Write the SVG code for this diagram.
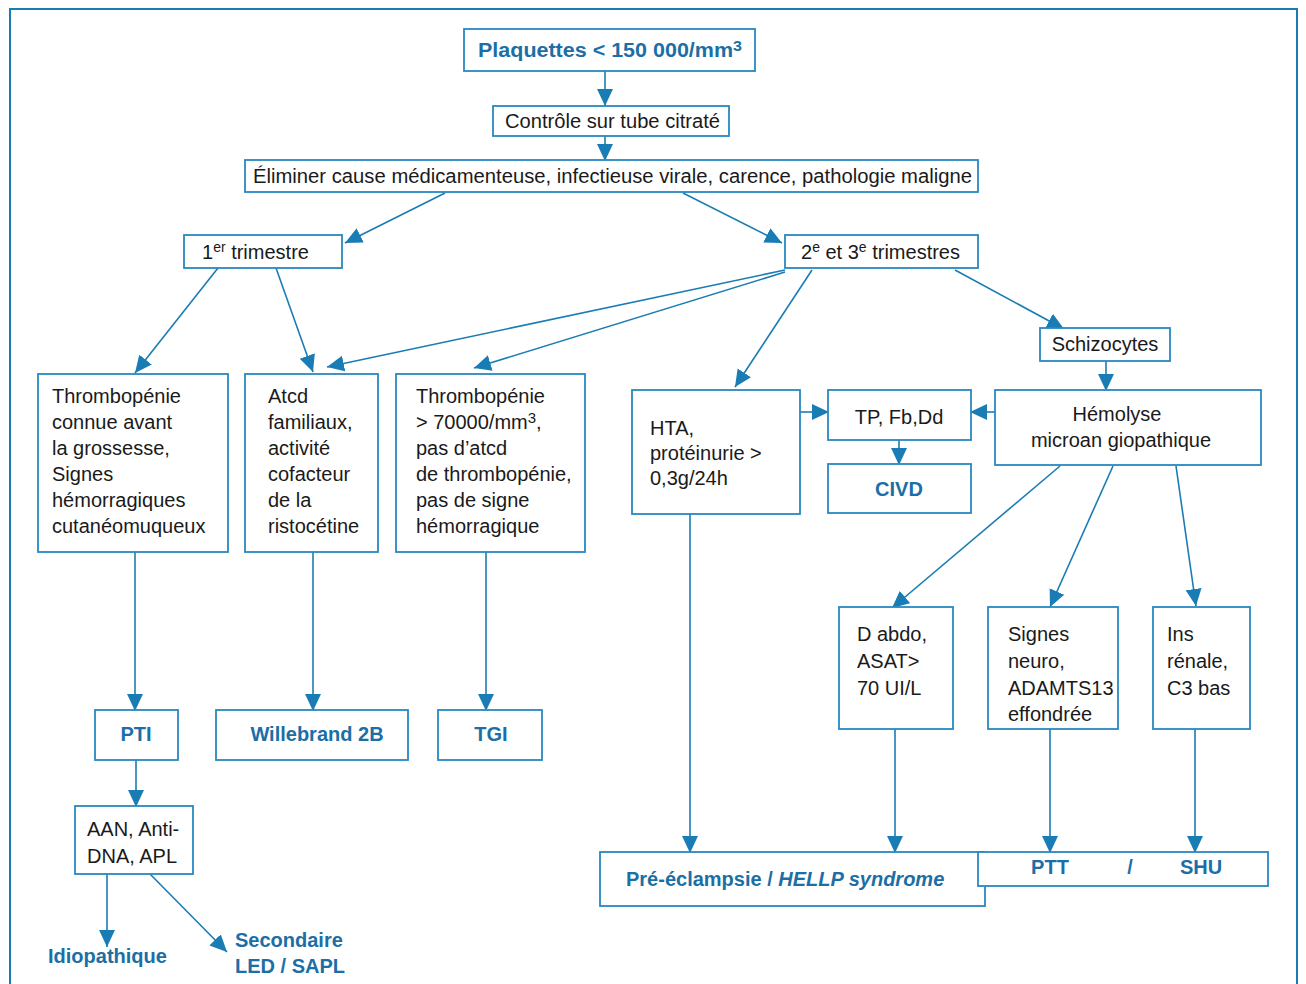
<svg xmlns="http://www.w3.org/2000/svg" width="1306" height="984" viewBox="0 0 1306 984">
<defs>
<marker id="ah" markerUnits="userSpaceOnUse" markerWidth="18" markerHeight="18" viewBox="0 0 18 18" refX="17" refY="9" orient="auto">
<path d="M0,1 L17,9 L0,17 Z" fill="#1a7cb4"/>
</marker>
<style>
.frame{fill:none;stroke:#1a7cb4;stroke-width:2}
.box{fill:#fff;stroke:#2a88c0;stroke-width:1.8}
.c{fill:none;stroke:#1a7cb4;stroke-width:1.6;marker-end:url(#ah)}
.t{font-family:"Liberation Sans",Arial,sans-serif;font-size:20px;fill:#1a1a1a}
.b{font-family:"Liberation Sans",Arial,sans-serif;font-size:20px;font-weight:bold;fill:#1b6fa6}
.m{text-anchor:middle}
</style>
</defs>
<rect width="1306" height="984" fill="#fff"/>
<rect class="frame" x="10" y="9" width="1287" height="1000"/>

<g id="connectors">
<line class="c" x1="605" y1="71" x2="605" y2="106"/>
<line class="c" x1="605" y1="136" x2="605" y2="161"/>
<line class="c" x1="445" y1="193" x2="345" y2="243"/>
<line class="c" x1="683" y1="193" x2="782" y2="243"/>
<line class="c" x1="218" y1="268" x2="135" y2="373"/>
<line class="c" x1="276" y1="268" x2="313" y2="372"/>
<line class="c" x1="785" y1="270" x2="327" y2="367"/>
<line class="c" x1="785" y1="272" x2="474" y2="368"/>
<line class="c" x1="812" y1="270" x2="735" y2="387"/>
<line class="c" x1="955" y1="270" x2="1064" y2="329"/>
<line class="c" x1="1106" y1="361" x2="1106" y2="391"/>
<line class="c" x1="800" y1="412" x2="829" y2="412"/>
<line class="c" x1="995" y1="412" x2="970" y2="412"/>
<line class="c" x1="899" y1="440" x2="899" y2="465"/>
<line class="c" x1="1060" y1="466" x2="892" y2="608"/>
<line class="c" x1="1113" y1="466" x2="1050" y2="607"/>
<line class="c" x1="1176" y1="466" x2="1196" y2="606"/>
<line class="c" x1="135" y1="552" x2="135" y2="711"/>
<line class="c" x1="313" y1="552" x2="313" y2="711"/>
<line class="c" x1="486" y1="552" x2="486" y2="711"/>
<line class="c" x1="136" y1="760" x2="136" y2="807"/>
<line class="c" x1="107" y1="874" x2="107" y2="947"/>
<line class="c" x1="150" y1="874" x2="227" y2="952"/>
<line class="c" x1="690" y1="514" x2="690" y2="853"/>
<line class="c" x1="895" y1="729" x2="895" y2="853"/>
<line class="c" x1="1050" y1="729" x2="1050" y2="853"/>
<line class="c" x1="1195" y1="729" x2="1195" y2="853"/>
</g>

<g id="plaquettes">
<rect class="box" x="464" y="29" width="291" height="42"/>
<text class="b" x="478" y="57" textLength="264" lengthAdjust="spacingAndGlyphs">Plaquettes &lt; 150 000/mm<tspan font-size="15" dy="-6">3</tspan></text>
</g>
<g id="controle">
<rect class="box" x="493" y="106" width="236" height="30"/>
<text class="t" x="505" y="128" textLength="215" lengthAdjust="spacingAndGlyphs">Contrôle sur tube citraté</text>
</g>
<g id="eliminer">
<rect class="box" x="245" y="160" width="733" height="32"/>
<text class="t" x="253" y="183" textLength="719" lengthAdjust="spacingAndGlyphs">Éliminer cause médicamenteuse, infectieuse virale, carence, pathologie maligne</text>
</g>
<g id="trim1">
<rect class="box" x="184" y="235" width="158" height="33"/>
<text class="t" x="202" y="259">1<tspan font-size="14" dy="-7">er</tspan><tspan dy="7"> trimestre</tspan></text>
</g>
<g id="trim23">
<rect class="box" x="785" y="235" width="193" height="33"/>
<text class="t" x="801" y="259">2<tspan font-size="14" dy="-7">e</tspan><tspan dy="7"> et 3</tspan><tspan font-size="14" dy="-7">e</tspan><tspan dy="7"> trimestres</tspan></text>
</g>
<g id="thrombo1">
<rect class="box" x="38" y="374" width="190" height="178"/>
<text class="t" x="52" y="403">Thrombopénie</text>
<text class="t" x="52" y="429">connue avant</text>
<text class="t" x="52" y="455">la grossesse,</text>
<text class="t" x="52" y="481">Signes</text>
<text class="t" x="52" y="507">hémorragiques</text>
<text class="t" x="52" y="533">cutanéomuqueux</text>
</g>
<g id="atcd">
<rect class="box" x="245" y="374" width="133" height="178"/>
<text class="t" x="268" y="403">Atcd</text>
<text class="t" x="268" y="429">familiaux,</text>
<text class="t" x="268" y="455">activité</text>
<text class="t" x="268" y="481">cofacteur</text>
<text class="t" x="268" y="507">de la</text>
<text class="t" x="268" y="533">ristocétine</text>
</g>
<g id="thrombo2">
<rect class="box" x="396" y="374" width="189" height="178"/>
<text class="t" x="416" y="403">Thrombopénie</text>
<text class="t" x="416" y="429">&gt; 70000/mm<tspan font-size="15" dy="-6">3</tspan><tspan dy="6">,</tspan></text>
<text class="t" x="416" y="455">pas d’atcd</text>
<text class="t" x="416" y="481">de thrombopénie,</text>
<text class="t" x="416" y="507">pas de signe</text>
<text class="t" x="416" y="533">hémorragique</text>
</g>
<g id="hta">
<rect class="box" x="632" y="390" width="168" height="124"/>
<text class="t" x="650" y="435">HTA,</text>
<text class="t" x="650" y="460">protéinurie &gt;</text>
<text class="t" x="650" y="485">0,3g/24h</text>
</g>
<g id="tp">
<rect class="box" x="828" y="390" width="143" height="50"/>
<text class="t m" x="899" y="424">TP, Fb,Dd</text>
</g>
<g id="civd">
<rect class="box" x="828" y="464" width="143" height="49"/>
<text class="b m" x="899" y="496">CIVD</text>
</g>
<g id="schizo">
<rect class="box" x="1040" y="328" width="130" height="33"/>
<text class="t m" x="1105" y="351">Schizocytes</text>
</g>
<g id="hemolyse">
<rect class="box" x="995" y="390" width="266" height="75"/>
<text class="t m" x="1117" y="421">Hémolyse</text>
<text class="t m" x="1121" y="447">microan giopathique</text>
</g>
<g id="dabdo">
<rect class="box" x="839" y="607" width="114" height="122"/>
<text class="t" x="857" y="641">D abdo,</text>
<text class="t" x="857" y="668">ASAT&gt;</text>
<text class="t" x="857" y="695">70 UI/L</text>
</g>
<g id="signes">
<rect class="box" x="988" y="607" width="130" height="122"/>
<text class="t" x="1008" y="641">Signes</text>
<text class="t" x="1008" y="668">neuro,</text>
<text class="t" x="1008" y="695">ADAMTS13</text>
<text class="t" x="1008" y="721">effondrée</text>
</g>
<g id="ins">
<rect class="box" x="1153" y="607" width="97" height="122"/>
<text class="t" x="1167" y="641">Ins</text>
<text class="t" x="1167" y="668">rénale,</text>
<text class="t" x="1167" y="695">C3 bas</text>
</g>
<g id="pti">
<rect class="box" x="95" y="710" width="83" height="50"/>
<text class="b m" x="136" y="741">PTI</text>
</g>
<g id="willebrand">
<rect class="box" x="216" y="710" width="192" height="50"/>
<text class="b m" x="317" y="741">Willebrand 2B</text>
</g>
<g id="tgi">
<rect class="box" x="438" y="710" width="104" height="50"/>
<text class="b m" x="491" y="741">TGI</text>
</g>
<g id="aan">
<rect class="box" x="75" y="806" width="118" height="68"/>
<text class="t" x="87" y="836">AAN, Anti-</text>
<text class="t" x="87" y="863">DNA, APL</text>
</g>
<g id="idiopathique">
<text class="b" x="48" y="963">Idiopathique</text>
</g>
<g id="secondaire">
<text class="b" x="235" y="947">Secondaire</text>
<text class="b" x="235" y="973">LED / SAPL</text>
</g>
<g id="preeclampsie">
<rect class="box" x="600" y="852" width="385" height="54"/>
<text class="b" x="626" y="886">Pré-éclampsie / <tspan font-style="italic">HELLP syndrome</tspan></text>
</g>
<g id="pttshu">
<rect class="box" x="978" y="852" width="290" height="34"/>
<text class="b m" x="1050" y="874">PTT</text>
<text class="b m" x="1130" y="874">/</text>
<text class="b m" x="1201" y="874">SHU</text>
</g>
</svg>
